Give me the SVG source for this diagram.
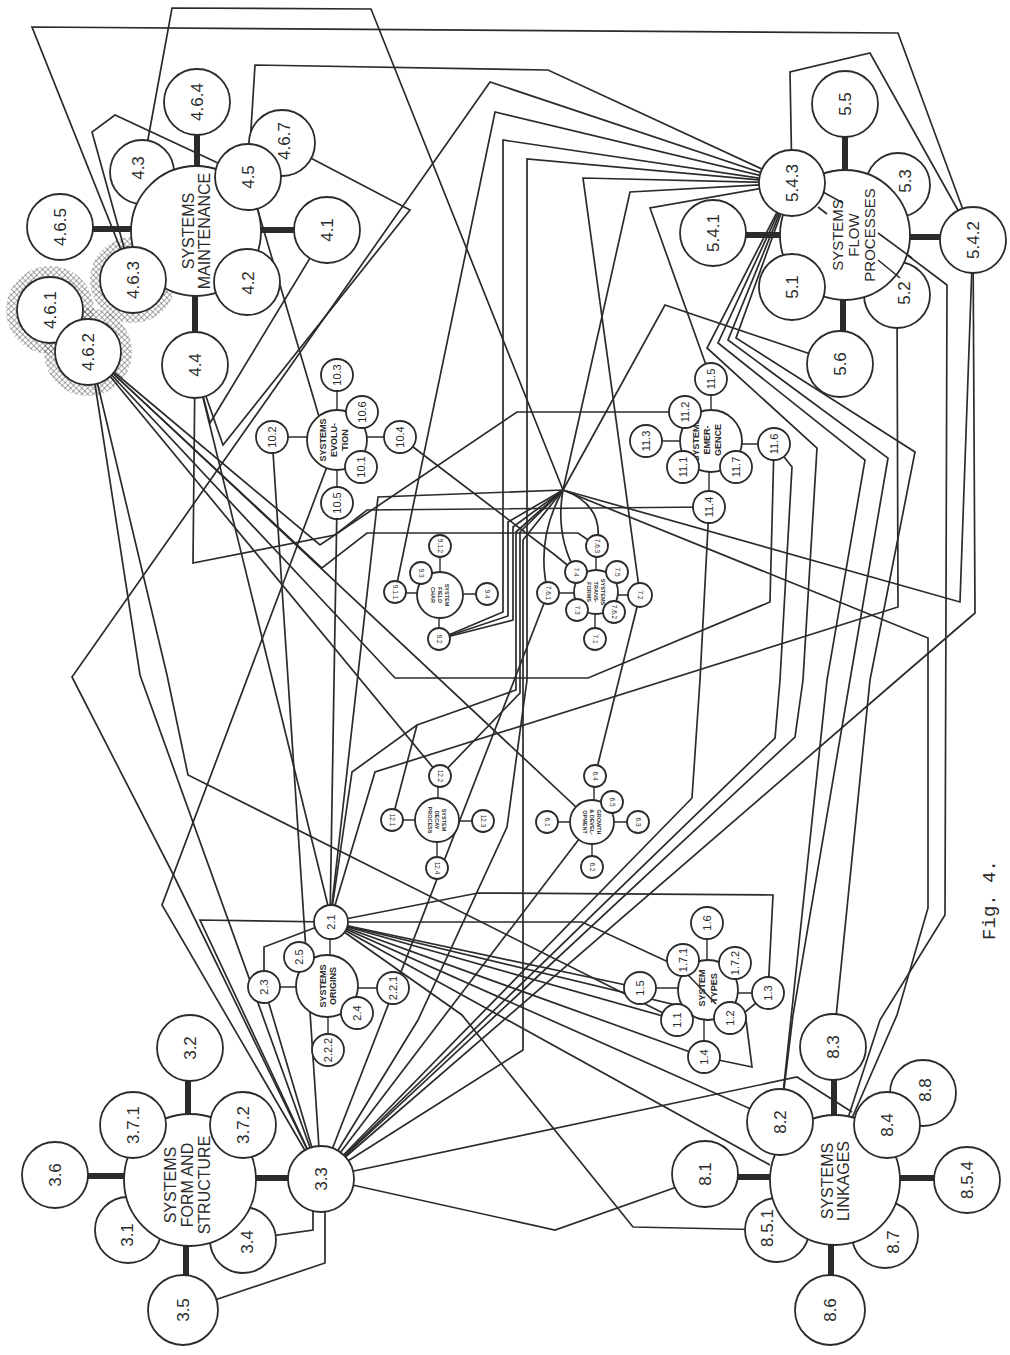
<svg xmlns="http://www.w3.org/2000/svg" width="1010" height="1355" viewBox="0 0 1010 1355">
<defs>
<pattern id="hatch" width="4" height="4" patternUnits="userSpaceOnUse" patternTransform="rotate(45)">
<path d="M0,0 V4 M0,0 H4" stroke="#555" stroke-width="1"/>
</pattern>
</defs>
<style>
.c polyline,.c line,.c path{fill:none;stroke:#2b2b2b;stroke-width:1.7;stroke-linejoin:miter}
.c line.sp{stroke-width:6}
.c line.sk{stroke-width:1.4}
circle.n{fill:#fff;stroke:#2b2b2b;stroke-width:1.8}
.ov{stroke:#2b2b2b;stroke-width:1.6}
text{font-family:"Liberation Sans",Arial,sans-serif;fill:#2b2b2b;text-anchor:middle;dominant-baseline:central}
.b{font-size:17px}.h{font-size:16px}.hf{font-size:15px}.m{font-size:11px}.mh{font-size:9px;font-weight:bold}.s{font-size:6.5px}.sh{font-size:5.5px;font-weight:bold}
.fig{font-family:"Liberation Mono","Courier New",monospace;font-size:19px}
</style>
<rect width="1010" height="1355" fill="#fff"/>
<g id="hatching" fill="url(#hatch)">
<circle cx="50" cy="310" r="44"/><circle cx="88" cy="352" r="44"/><circle cx="133" cy="280" r="43"/>
</g>
<g id="connectors" class="c">
<line class="sp" x1="197" y1="231" x2="197" y2="102"/>
<line class="sp" x1="196" y1="229" x2="60" y2="229"/>
<line class="sp" x1="196" y1="230" x2="327" y2="230"/>
<line class="sp" x1="195" y1="231" x2="195" y2="365"/>
<line class="sp" x1="845" y1="235" x2="845" y2="104"/>
<line class="sp" x1="845" y1="235" x2="713" y2="235"/>
<line class="sp" x1="845" y1="237" x2="973" y2="237"/>
<line class="sp" x1="843" y1="235" x2="843" y2="364"/>
<line class="sp" x1="188" y1="1180" x2="188" y2="1048"/>
<line class="sp" x1="188" y1="1176" x2="55" y2="1176"/>
<line class="sp" x1="188" y1="1178" x2="321" y2="1178"/>
<line class="sp" x1="186" y1="1180" x2="186" y2="1310"/>
<line class="sp" x1="834" y1="1180" x2="834" y2="1047"/>
<line class="sp" x1="835" y1="1177" x2="705" y2="1177"/>
<line class="sp" x1="835" y1="1178" x2="967" y2="1178"/>
<line class="sp" x1="831" y1="1180" x2="831" y2="1310"/>
<line class="sk" x1="330" y1="986" x2="330" y2="922"/>
<line class="sk" x1="327" y1="987" x2="264" y2="987"/>
<line class="sk" x1="327" y1="988" x2="393" y2="988"/>
<line class="sk" x1="328" y1="986" x2="328" y2="1050"/>
<line class="sk" x1="707" y1="990" x2="707" y2="923"/>
<line class="sk" x1="708" y1="988" x2="640" y2="988"/>
<line class="sk" x1="708" y1="993" x2="768" y2="993"/>
<line class="sk" x1="704" y1="990" x2="704" y2="1057"/>
<line class="sk" x1="337" y1="440" x2="337" y2="375"/>
<line class="sk" x1="337" y1="437" x2="272" y2="437"/>
<line class="sk" x1="337" y1="437" x2="400" y2="437"/>
<line class="sk" x1="337" y1="440" x2="337" y2="503"/>
<line class="sk" x1="711" y1="441" x2="711" y2="379"/>
<line class="sk" x1="711" y1="441" x2="646" y2="441"/>
<line class="sk" x1="711" y1="444" x2="774" y2="444"/>
<line class="sk" x1="709" y1="441" x2="709" y2="507"/>
<line class="sk" x1="437" y1="820" x2="392" y2="820"/>
<line class="sk" x1="438" y1="820" x2="438" y2="776"/>
<line class="sk" x1="437" y1="821" x2="483" y2="821"/>
<line class="sk" x1="437" y1="820" x2="437" y2="868"/>
<line class="sk" x1="592" y1="822" x2="547" y2="822"/>
<line class="sk" x1="594" y1="822" x2="594" y2="776"/>
<line class="sk" x1="592" y1="822" x2="638" y2="822"/>
<line class="sk" x1="592" y1="822" x2="592" y2="867"/>
<line class="sk" x1="440" y1="593" x2="395" y2="593"/>
<line class="sk" x1="440" y1="595" x2="440" y2="546"/>
<line class="sk" x1="440" y1="594" x2="487" y2="594"/>
<line class="sk" x1="439" y1="595" x2="439" y2="639"/>
<line class="sk" x1="596" y1="592" x2="596" y2="546"/>
<line class="sk" x1="596" y1="593" x2="548" y2="593"/>
<line class="sk" x1="596" y1="595" x2="640" y2="595"/>
<line class="sk" x1="595" y1="592" x2="595" y2="639"/>
<polyline points="133,280 32,27 898,33 973,237"/>
<polyline points="142,172 172,8 371,9 563,490"/>
<polyline points="248,177 255,65 548,70 792,183"/>
<polyline points="133,280 92,132 115,115 248,177"/>
<polyline points="282,143 410,210 223,445 195,365"/>
<polyline points="792,183 490,82 72,677 172,872 321,1178"/>
<polyline points="327,230 210,423 195,365"/>
<polyline points="248,177 320,420"/>
<polyline points="195,365 332,922"/>
<polyline points="195,365 193,563 335,535 367,510 709,507"/>
<polyline points="90,352 320,545 517,412 685,412"/>
<polyline points="90,352 322,568 367,533 578,533 597,546"/>
<polyline points="90,352 440,776"/>
<polyline points="90,352 592,822"/>
<polyline points="90,352 140,675 321,1178"/>
<polyline points="90,352 167,675 188,775 677,1020"/>
<polyline points="774,444 770,602 588,678 395,678 90,352"/>
<polyline points="897,295 898,607 375,772 330,922"/>
<polyline points="792,183 495,112 395,593"/>
<polyline points="792,183 503,140 503,612 439,639"/>
<polyline points="563,490 508,522 508,616 439,639"/>
<polyline points="563,490 513,527 513,620 439,639"/>
<polyline points="563,490 520,532 520,693 440,776"/>
<polyline points="563,490 516,532 516,690 417,725 352,772 330,922"/>
<polyline points="392,820 417,725"/>
<polyline points="563,490 523,540 523,1050 321,1178"/>
<polyline points="792,183 527,159 527,680 507,827 418,1020 321,1178"/>
<polyline points="792,183 583,178 640,595"/>
<polyline points="792,183 630,192 563,490"/>
<polyline points="840,364 665,305 563,490"/>
<polyline points="792,183 650,208 711,379"/>
<polyline points="792,183 707,348 817,448 803,680 795,737 321,1178"/>
<polyline points="792,183 718,343 865,460 827,680 780,1122"/>
<polyline points="792,183 728,340 888,458 850,680 793,1015 780,1122"/>
<polyline points="792,183 736,338 915,452 870,680 833,1047"/>
<polyline points="973,237 960,602 563,490"/>
<polyline points="973,237 975,613 903,675 321,1178"/>
<polyline points="878,233 947,285 945,915 880,1020 848,1118"/>
<polyline points="563,490 928,638 928,908 897,1015 852,1118"/>
<polyline points="792,183 790,72 870,53 973,237"/>
<polyline points="774,444 792,467 780,680 775,738 321,1178"/>
<polyline points="272,437 321,1178"/>
<polyline points="337,440 162,905 321,1178"/>
<polyline points="330,922 200,920 321,1178"/>
<polyline points="264,987 264,947 330,922"/>
<polyline points="264,987 321,1178"/>
<polyline points="337,503 330,922"/>
<polyline points="563,490 378,497 330,922"/>
<polyline points="330,922 478,893 773,895 768,993"/>
<polyline points="330,922 582,922 690,972"/>
<polyline points="330,922 640,988"/>
<polyline points="330,922 677,1020"/>
<polyline points="330,922 704,1057"/>
<polyline points="330,922 780,1122"/>
<polyline points="330,922 770,1165"/>
<polyline points="330,922 462,1015 633,1227 777,1230"/>
<polyline points="330,922 730,1018"/>
<polyline points="321,1178 555,1230 705,1177"/>
<polyline points="709,507 700,680 692,798 321,1178"/>
<polyline points="321,1178 797,1077 852,1112"/>
<polyline points="321,1178 592,822"/>
<polyline points="548,593 321,1178"/>
<polyline points="640,595 595,776"/>
<polyline points="768,993 745,1012 752,1067 704,1057"/>
<polyline points="243,1240 313,1230 313,1178"/>
<polyline points="185,1310 325,1263 325,1178"/>
<polyline points="400,437 555,555 576,572"/>
<path d="M563,490 Q535,540 548,593"/>
<path d="M563,490 Q555,535 576,572"/>
<path d="M563,490 Q605,505 597,546"/>
</g>
<g id="n4-3"><circle class="n" cx="142" cy="172" r="32"/><text class="b" transform="translate(138,168) rotate(-90)">4.3</text></g>
<g id="maintenance">
<circle class="n" cx="196" cy="231" r="65"/>
<text class="h" transform="translate(196,231) rotate(-90)"><tspan x="0" y="-8">SYSTEMS</tspan><tspan x="0" y="8">MAINTENANCE</tspan></text>
</g>
<g id="n4-6-4"><circle class="n" cx="197" cy="102" r="33"/><text class="b" transform="translate(197,102) rotate(-90)">4.6.4</text></g>
<g id="n4-6-7"><circle class="n" cx="282" cy="143" r="33"/><text class="b" transform="translate(284,141) rotate(-90)">4.6.7</text></g>
<g id="n4-5"><circle class="n" cx="248" cy="177" r="33"/><text class="b" transform="translate(248,177) rotate(-90)">4.5</text></g>
<g id="n4-1"><circle class="n" cx="327" cy="230" r="33"/><text class="b" transform="translate(327,230) rotate(-90)">4.1</text></g>
<g id="n4-2"><circle class="n" cx="247" cy="282" r="33"/><text class="b" transform="translate(248,283) rotate(-90)">4.2</text></g>
<g id="n4-6-5"><circle class="n" cx="60" cy="227" r="33"/><text class="b" transform="translate(60,227) rotate(-90)">4.6.5</text></g>
<g id="n4-6-3"><circle class="n" cx="133" cy="280" r="33"/><text class="b" transform="translate(133,280) rotate(-90)">4.6.3</text></g>
<g id="n4-6-1"><circle class="n" cx="50" cy="310" r="33"/><text class="b" transform="translate(50,310) rotate(-90)">4.6.1</text></g>
<g id="n4-6-2"><circle class="n" cx="88" cy="352" r="33"/><text class="b" transform="translate(88,352) rotate(-90)">4.6.2</text></g>
<g id="n4-4"><circle class="n" cx="195" cy="365" r="33"/><text class="b" transform="translate(195,365) rotate(-90)">4.4</text></g>
<g id="n5-3"><circle class="n" cx="898" cy="185" r="32"/><text class="b" transform="translate(905,181) rotate(-90)">5.3</text></g>
<g id="n5-2"><circle class="n" cx="897" cy="295" r="33"/><text class="b" transform="translate(904,293) rotate(-90)">5.2</text></g>
<g id="flow">
<circle class="n" cx="845" cy="235" r="65"/>
<text class="hf" transform="translate(853,235) rotate(-90)"><tspan x="0" y="-16">SYSTEMS</tspan><tspan x="0" y="0">FLOW</tspan><tspan x="0" y="16">PROCESSES</tspan></text>
<line class="ov" x1="823" y1="192" x2="843" y2="203"/>
<line class="ov" x1="818" y1="207" x2="827" y2="214"/>
<line class="ov" x1="878" y1="233" x2="912" y2="258"/>
<line class="ov" x1="878" y1="260" x2="900" y2="278"/>
</g>
<g id="n5-4-3"><circle class="n" cx="792" cy="183" r="33"/><text class="b" transform="translate(792,183) rotate(-90)">5.4.3</text></g>
<g id="n5-5"><circle class="n" cx="845" cy="104" r="33"/><text class="b" transform="translate(845,104) rotate(-90)">5.5</text></g>
<g id="n5-4-2"><circle class="n" cx="973" cy="240" r="33"/><text class="b" transform="translate(973,240) rotate(-90)">5.4.2</text></g>
<g id="n5-4-1"><circle class="n" cx="713" cy="233" r="33"/><text class="b" transform="translate(713,233) rotate(-90)">5.4.1</text></g>
<g id="n5-1"><circle class="n" cx="792" cy="287" r="33"/><text class="b" transform="translate(792,287) rotate(-90)">5.1</text></g>
<g id="n5-6"><circle class="n" cx="840" cy="364" r="33"/><text class="b" transform="translate(840,364) rotate(-90)">5.6</text></g>
<g id="n3-1"><circle class="n" cx="128" cy="1230" r="33"/><text class="b" transform="translate(127,1235) rotate(-90)">3.1</text></g>
<g id="n3-4"><circle class="n" cx="243" cy="1240" r="33"/><text class="b" transform="translate(247,1242) rotate(-90)">3.4</text></g>
<g id="form">
<circle class="n" cx="190" cy="1180" r="66"/>
<text class="h" transform="translate(187,1185) rotate(-90)"><tspan x="0" y="-17">SYSTEMS</tspan><tspan x="0" y="0">FORM AND</tspan><tspan x="0" y="17">STRUCTURE</tspan></text>
</g>
<g id="n3-2"><circle class="n" cx="190" cy="1048" r="33"/><text class="b" transform="translate(190,1048) rotate(-90)">3.2</text></g>
<g id="n3-7-1"><circle class="n" cx="133" cy="1125" r="33"/><text class="b" transform="translate(133,1125) rotate(-90)">3.7.1</text></g>
<g id="n3-7-2"><circle class="n" cx="243" cy="1125" r="33"/><text class="b" transform="translate(243,1125) rotate(-90)">3.7.2</text></g>
<g id="n3-6"><circle class="n" cx="55" cy="1175" r="33"/><text class="b" transform="translate(55,1175) rotate(-90)">3.6</text></g>
<g id="n3-5"><circle class="n" cx="183" cy="1310" r="35"/><text class="b" transform="translate(183,1310) rotate(-90)">3.5</text></g>
<g id="n3-3"><circle class="n" cx="321" cy="1179" r="33"/><text class="b" transform="translate(321,1179) rotate(-90)">3.3</text></g>
<g id="n8-5-1"><circle class="n" cx="777" cy="1230" r="32"/><text class="b" transform="translate(767,1228) rotate(-90)">8.5.1</text></g>
<g id="n8-7"><circle class="n" cx="885" cy="1235" r="33"/><text class="b" transform="translate(893,1242) rotate(-90)">8.7</text></g>
<g id="n8-8"><circle class="n" cx="923" cy="1093" r="33"/><text class="b" transform="translate(925,1090) rotate(-90)">8.8</text></g>
<g id="linkages">
<circle class="n" cx="835" cy="1180" r="65"/>
<text class="h" transform="translate(835,1181) rotate(-90)"><tspan x="0" y="-8">SYSTEMS</tspan><tspan x="0" y="8">LINKAGES</tspan></text>
</g>
<g id="n8-3"><circle class="n" cx="833" cy="1047" r="33"/><text class="b" transform="translate(833,1047) rotate(-90)">8.3</text></g>
<g id="n8-2"><circle class="n" cx="780" cy="1122" r="33"/><text class="b" transform="translate(780,1122) rotate(-90)">8.2</text></g>
<g id="n8-4"><circle class="n" cx="887" cy="1125" r="33"/><text class="b" transform="translate(887,1125) rotate(-90)">8.4</text></g>
<g id="n8-1"><circle class="n" cx="705" cy="1174" r="33"/><text class="b" transform="translate(705,1174) rotate(-90)">8.1</text></g>
<g id="n8-5-4"><circle class="n" cx="967" cy="1180" r="33"/><text class="b" transform="translate(967,1180) rotate(-90)">8.5.4</text></g>
<g id="n8-6"><circle class="n" cx="830" cy="1310" r="35"/><text class="b" transform="translate(830,1310) rotate(-90)">8.6</text></g>
<g id="origins">
<circle class="n" cx="327" cy="986" r="31"/>
<text class="mh" transform="translate(328,986) rotate(-90)"><tspan x="0" y="-5">SYSTEMS</tspan><tspan x="0" y="5">ORIGINS</tspan></text>
</g>
<g id="n2-1"><circle class="n" cx="331" cy="922" r="17"/><text class="m" transform="translate(331,922) rotate(-90)">2.1</text></g>
<g id="n2-5"><circle class="n" cx="299" cy="957" r="15"/><text class="m" transform="translate(299,957) rotate(-90)">2.5</text></g>
<g id="n2-3"><circle class="n" cx="264" cy="987" r="16"/><text class="m" transform="translate(264,987) rotate(-90)">2.3</text></g>
<g id="n2-2-1"><circle class="n" cx="393" cy="988" r="16"/><text class="m" transform="translate(393,988) rotate(-90)">2.2.1</text></g>
<g id="n2-4"><circle class="n" cx="357" cy="1013" r="16"/><text class="m" transform="translate(357,1013) rotate(-90)">2.4</text></g>
<g id="n2-2-2"><circle class="n" cx="328" cy="1050" r="16"/><text class="m" transform="translate(328,1050) rotate(-90)">2.2.2</text></g>
<g id="types">
<circle class="n" cx="708" cy="990" r="30"/>
<text class="mh" transform="translate(708,988) rotate(-90)"><tspan x="0" y="-6">SYSTEM</tspan><tspan x="0" y="6">TYPES</tspan></text>
<line class="ov" x1="688" y1="975" x2="716" y2="1004"/>
</g>
<g id="n1-6"><circle class="n" cx="707" cy="923" r="16"/><text class="m" transform="translate(707,923) rotate(-90)">1.6</text></g>
<g id="n1-7-1"><circle class="n" cx="683" cy="960" r="16"/><text class="m" transform="translate(683,960) rotate(-90)">1.7.1</text></g>
<g id="n1-7-2"><circle class="n" cx="735" cy="963" r="16"/><text class="m" transform="translate(735,963) rotate(-90)">1.7.2</text></g>
<g id="n1-5"><circle class="n" cx="640" cy="988" r="16"/><text class="m" transform="translate(640,988) rotate(-90)">1.5</text></g>
<g id="n1-3"><circle class="n" cx="768" cy="993" r="16"/><text class="m" transform="translate(768,993) rotate(-90)">1.3</text></g>
<g id="n1-1"><circle class="n" cx="677" cy="1020" r="16"/><text class="m" transform="translate(677,1020) rotate(-90)">1.1</text></g>
<g id="n1-2"><circle class="n" cx="730" cy="1018" r="16"/><text class="m" transform="translate(730,1018) rotate(-90)">1.2</text></g>
<g id="n1-4"><circle class="n" cx="704" cy="1057" r="16"/><text class="m" transform="translate(704,1057) rotate(-90)">1.4</text></g>
<g id="evolution">
<circle class="n" cx="337" cy="440" r="30"/>
<text class="mh" transform="translate(334,440) rotate(-90)"><tspan x="0" y="-11">SYSTEMS</tspan><tspan x="0" y="0">EVOLU-</tspan><tspan x="0" y="11">TION</tspan></text>
</g>
<g id="n10-3"><circle class="n" cx="337" cy="375" r="16"/><text class="m" transform="translate(337,375) rotate(-90)">10.3</text></g>
<g id="n10-2"><circle class="n" cx="272" cy="437" r="16"/><text class="m" transform="translate(272,437) rotate(-90)">10.2</text></g>
<g id="n10-6"><circle class="n" cx="362" cy="412" r="16"/><text class="m" transform="translate(362,412) rotate(-90)">10.6</text></g>
<g id="n10-4"><circle class="n" cx="400" cy="437" r="16"/><text class="m" transform="translate(400,437) rotate(-90)">10.4</text></g>
<g id="n10-1"><circle class="n" cx="361" cy="467" r="16"/><text class="m" transform="translate(361,467) rotate(-90)">10.1</text></g>
<g id="n10-5"><circle class="n" cx="337" cy="503" r="16"/><text class="m" transform="translate(337,503) rotate(-90)">10.5</text></g>
<g id="emergence">
<circle class="n" cx="711" cy="441" r="31"/>
<text class="mh" transform="translate(707,440) rotate(-90)"><tspan x="0" y="-11">SYSTEMS</tspan><tspan x="0" y="0">EMER-</tspan><tspan x="0" y="11">GENCE</tspan></text>
</g>
<g id="n11-5"><circle class="n" cx="711" cy="379" r="16"/><text class="m" transform="translate(711,379) rotate(-90)">11.5</text></g>
<g id="n11-2"><circle class="n" cx="685" cy="412" r="16"/><text class="m" transform="translate(685,412) rotate(-90)">11.2</text></g>
<g id="n11-3"><circle class="n" cx="646" cy="441" r="16"/><text class="m" transform="translate(646,441) rotate(-90)">11.3</text></g>
<g id="n11-6"><circle class="n" cx="774" cy="444" r="16"/><text class="m" transform="translate(774,444) rotate(-90)">11.6</text></g>
<g id="n11-1"><circle class="n" cx="683" cy="467" r="16"/><text class="m" transform="translate(683,467) rotate(-90)">11.1</text></g>
<g id="n11-7"><circle class="n" cx="736" cy="467" r="16"/><text class="m" transform="translate(736,467) rotate(-90)">11.7</text></g>
<g id="n11-4"><circle class="n" cx="709" cy="507" r="16"/><text class="m" transform="translate(709,507) rotate(-90)">11.4</text></g>
<g id="decay">
<circle class="n" cx="437" cy="820" r="22"/>
<text class="sh" transform="translate(437,820) rotate(90)"><tspan x="0" y="-7">SYSTEM</tspan><tspan x="0" y="0">DECAY</tspan><tspan x="0" y="7">PROCESS</tspan></text>
</g>
<g id="n12-1"><circle class="n" cx="392" cy="820" r="11"/><text class="s" transform="translate(392,820) rotate(90)">12.1</text></g>
<g id="n12-2"><circle class="n" cx="440" cy="776" r="11"/><text class="s" transform="translate(440,776) rotate(90)">12.2</text></g>
<g id="n12-3"><circle class="n" cx="483" cy="821" r="11"/><text class="s" transform="translate(483,821) rotate(90)">12.3</text></g>
<g id="n12-4"><circle class="n" cx="437" cy="868" r="11"/><text class="s" transform="translate(437,868) rotate(90)">12.4</text></g>
<g id="growth">
<circle class="n" cx="592" cy="822" r="22"/>
<text class="sh" transform="translate(592,822) rotate(90)"><tspan x="0" y="-7">GROWTH</tspan><tspan x="0" y="0">&amp; DEVEL-</tspan><tspan x="0" y="7">OPMENT</tspan></text>
</g>
<g id="n6-1"><circle class="n" cx="547" cy="822" r="11"/><text class="s" transform="translate(547,822) rotate(90)">6.1</text></g>
<g id="n6-4"><circle class="n" cx="595" cy="776" r="11"/><text class="s" transform="translate(595,776) rotate(90)">6.4</text></g>
<g id="n6-5"><circle class="n" cx="612" cy="802" r="11"/><text class="s" transform="translate(612,802) rotate(90)">6.5</text></g>
<g id="n6-3"><circle class="n" cx="638" cy="822" r="11"/><text class="s" transform="translate(638,822) rotate(90)">6.3</text></g>
<g id="n6-2"><circle class="n" cx="592" cy="867" r="11"/><text class="s" transform="translate(592,867) rotate(90)">6.2</text></g>
<g id="field">
<circle class="n" cx="440" cy="595" r="23"/>
<text class="sh" transform="translate(440,595) rotate(90)"><tspan x="0" y="-7">SYSTEM</tspan><tspan x="0" y="0">FIELD</tspan><tspan x="0" y="7">CHAR</tspan></text>
</g>
<g id="n9-1-1"><circle class="n" cx="395" cy="592" r="11"/><text class="s" transform="translate(395,592) rotate(90)">9.1.1</text></g>
<g id="n9-3"><circle class="n" cx="421" cy="573" r="11"/><text class="s" transform="translate(421,573) rotate(90)">9.3</text></g>
<g id="n9-1-2"><circle class="n" cx="440" cy="546" r="11"/><text class="s" transform="translate(440,546) rotate(90)">9.1.2</text></g>
<g id="n9-4"><circle class="n" cx="487" cy="594" r="11"/><text class="s" transform="translate(487,594) rotate(90)">9.4</text></g>
<g id="n9-2"><circle class="n" cx="439" cy="639" r="11"/><text class="s" transform="translate(439,639) rotate(90)">9.2</text></g>
<g id="transforms">
<circle class="n" cx="596" cy="592" r="22"/>
<text class="sh" transform="translate(596,592) rotate(90)"><tspan x="0" y="-7">SYSTEMS</tspan><tspan x="0" y="0">TRANS-</tspan><tspan x="0" y="7">FORMS</tspan></text>
</g>
<g id="n7-6-3"><circle class="n" cx="597" cy="546" r="11"/><text class="s" transform="translate(597,546) rotate(90)">7.6.3</text></g>
<g id="n7-4"><circle class="n" cx="576" cy="572" r="11"/><text class="s" transform="translate(576,572) rotate(90)">7.4</text></g>
<g id="n7-5"><circle class="n" cx="617" cy="572" r="11"/><text class="s" transform="translate(617,572) rotate(90)">7.5</text></g>
<g id="n7-6-1"><circle class="n" cx="548" cy="593" r="11"/><text class="s" transform="translate(548,593) rotate(90)">7.6.1</text></g>
<g id="n7-2"><circle class="n" cx="640" cy="595" r="12"/><text class="s" transform="translate(640,595) rotate(90)">7.2</text></g>
<g id="n7-3"><circle class="n" cx="577" cy="610" r="11"/><text class="s" transform="translate(577,610) rotate(90)">7.3</text></g>
<g id="n7-6-2"><circle class="n" cx="614" cy="612" r="11"/><text class="s" transform="translate(614,612) rotate(90)">7.6.2</text></g>
<g id="n7-1"><circle class="n" cx="595" cy="639" r="11"/><text class="s" transform="translate(595,639) rotate(90)">7.1</text></g>
<text class="fig" transform="translate(990,900) rotate(-90)">Fig. 4.</text>
</svg>
